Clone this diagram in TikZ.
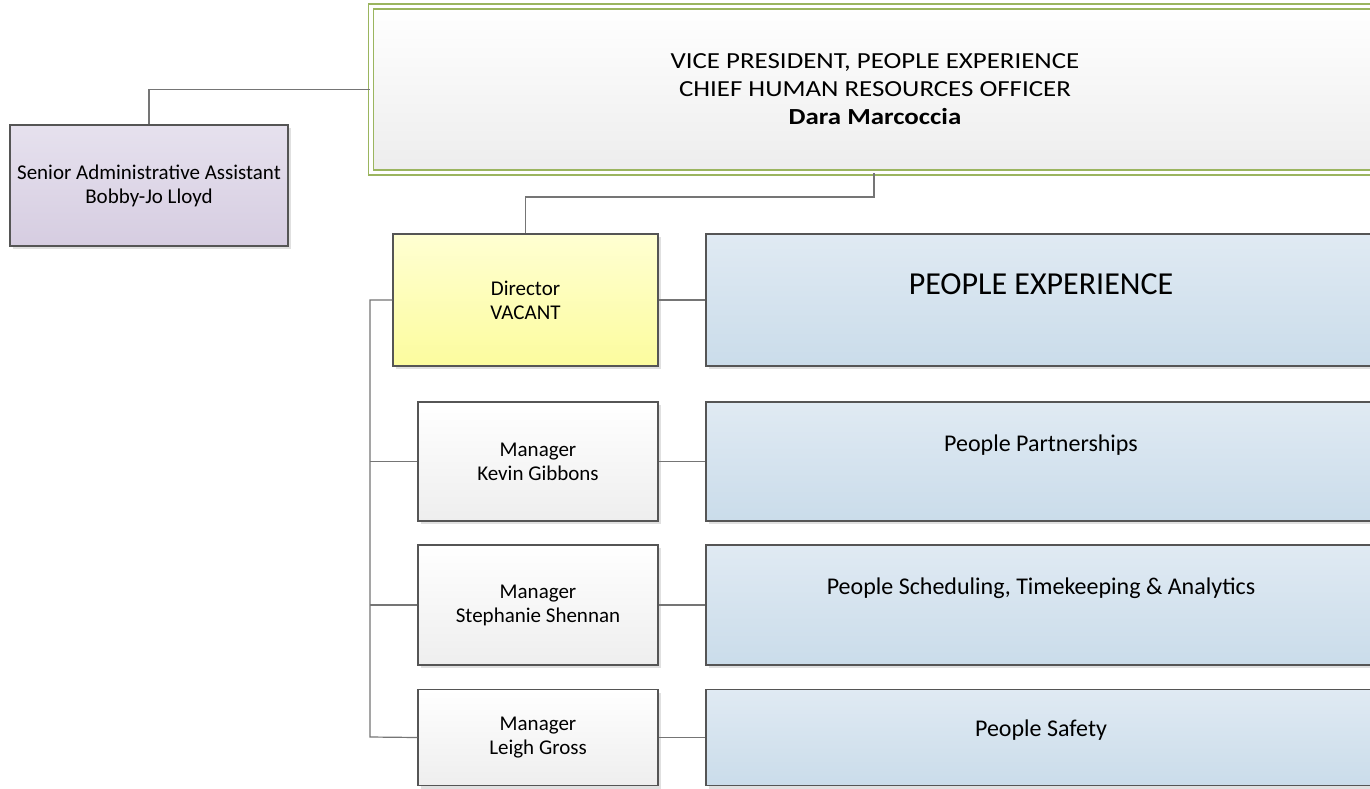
\documentclass[tikz,border=0pt]{standalone}
\usepackage{fontspec}
\setmainfont{Carlito}
\usetikzlibrary{shadows}
\definecolor{boxline}{HTML}{555555}
\definecolor{conn}{HTML}{757575}
\definecolor{vpline}{HTML}{9BB55F}
\definecolor{asstTop}{HTML}{E6E1EE}
\definecolor{asstBot}{HTML}{D6CDE1}
\definecolor{dirTop}{HTML}{FFFFD2}
\definecolor{dirBot}{HTML}{FCFC9E}
\definecolor{mgrBot}{HTML}{EEEEEE}
\definecolor{deptTop}{HTML}{E0EAF3}
\definecolor{deptBot}{HTML}{CADCEA}
\definecolor{vpBot}{HTML}{EDEDED}
\tikzset{
  base/.style={draw=boxline, line width=1.2pt, rectangle, inner sep=0pt, align=center,
    drop shadow={shadow xshift=3pt, shadow yshift=-3pt, fill=black!12, opacity=1}},
  asstbox/.style={base, top color=asstTop, bottom color=asstBot},
  dirbox/.style={base, top color=dirTop, bottom color=dirBot},
  mgrbox/.style={base, top color=white, bottom color=mgrBot},
  deptbox/.style={base, top color=deptTop, bottom color=deptBot},
  vpbox/.style={rectangle, inner sep=0pt, align=center, top color=white, bottom color=vpBot,
    draw=vpline, line width=1.3pt, double=white, double distance=3.6pt,
    drop shadow={shadow xshift=3pt, shadow yshift=-3pt, fill=black!12, opacity=1}},
  wire/.style={draw=conn, line width=1.2pt},
  smalltxt/.style={font=\fontsize{21}{24}\selectfont},
  depttxt/.style={font=\fontsize{24}{28}\selectfont},
}
\begin{document}
\begin{tikzpicture}[x=1pt,y=-1pt]
\clip (0,0) rectangle (1370,788);
\fill[white] (0,0) rectangle (1370,788);
% boxes
\node[vpbox, minimum width=1008pt, minimum height=166pt, font=\fontsize{23}{28}\selectfont\addfontfeature{FakeStretch=1.17}] (vp) at (875,89.5)
  {VICE PRESIDENT, PEOPLE EXPERIENCE\\CHIEF HUMAN RESOURCES OFFICER\\\textbf{Dara Marcoccia}};
\node[asstbox, smalltxt, minimum width=278pt, minimum height=121pt] (asst) at (149,185.5)
  {Senior Administrative Assistant\\Bobby-Jo Lloyd};
\node[dirbox, smalltxt, minimum width=265pt, minimum height=132pt] (dir) at (525.5,300)
  {Director\\VACANT};
\node[deptbox, minimum width=680pt, minimum height=132pt] (pe) at (1046,300) {};
\node[font=\fontsize{32}{36}\selectfont] (pet) at (1041,284) {PEOPLE EXPERIENCE};
\node[mgrbox, smalltxt, minimum width=240pt, minimum height=119pt] (kevin) at (538,461.5)
  {Manager\\Kevin Gibbons};
\node[deptbox, minimum width=680pt, minimum height=119pt] (pp) at (1046,461.5) {};
\node[depttxt] (ppt) at (1041,445) {People Partnerships};
\node[mgrbox, smalltxt, minimum width=240pt, minimum height=120pt] (steph) at (538,605)
  {Manager\\Stephanie Shennan};
\node[deptbox, minimum width=680pt, minimum height=120pt] (ps) at (1046,605) {};
\node[depttxt] (pst) at (1041,588) {People Scheduling, Timekeeping \& Analytics};
\node[mgrbox, smalltxt, minimum width=240pt, minimum height=96pt] (leigh) at (538,737.5)
  {Manager\\Leigh Gross};
\node[deptbox, minimum width=680pt, minimum height=96pt] (sf) at (1046,737.5) {};
\node[depttxt] (sft) at (1041,730) {People Safety};
% connectors
\coordinate (bustop) at (370,300);
\coordinate (busbot) at (370,737);
\coordinate (vpdrop) at (874,197);
\draw[wire] (asst.north) |- (vp.west);
\draw[wire] (vp.south -| vpdrop) -- (vpdrop) -| (dir.north);
\draw[wire] (dir.west) -- (bustop) -- (busbot) -- (leigh.west);
\draw[wire] (kevin.west) -- (kevin.west -| bustop);
\draw[wire] (steph.west) -- (steph.west -| bustop);
\draw[wire] (dir.east) -- (pe.west);
\draw[wire] (kevin.east) -- (pp.west);
\draw[wire] (steph.east) -- (ps.west);
\draw[wire] (leigh.east) -- (sf.west);
\end{tikzpicture}
\end{document}
